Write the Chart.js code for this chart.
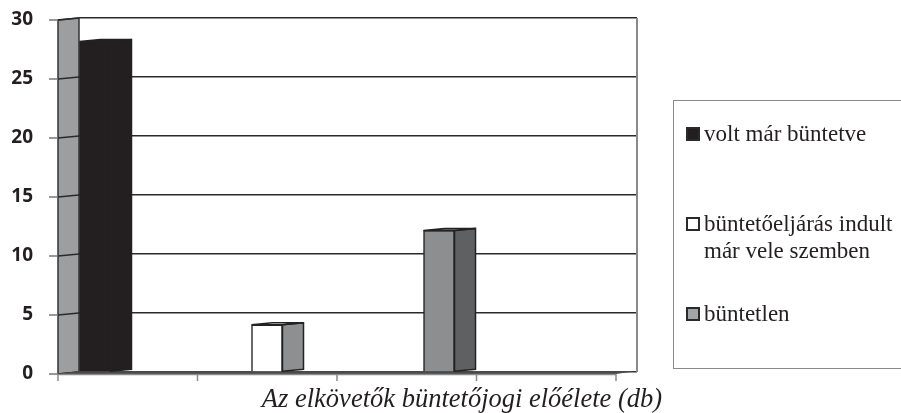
<!DOCTYPE html>
<html>
<head>
<meta charset="utf-8">
<script src="https://cdn.jsdelivr.net/npm/chart.js@4"></script>
<style>
  body { margin: 0; background: #fff; }
  #wrap { position: relative; width: 901px; height: 413px; }
  #legend {
    position: absolute; left: 673px; top: 100px; width: 260px; height: 269px;
    border: 1.5px solid #8a8a8a; box-sizing: border-box;
    font-family: "Liberation Serif", "DejaVu Serif", serif; font-size: 23px;
    line-height: 27px; color: #231f20;
  }
  #legend .item { position: absolute; left: 30px; width: 200px; }
  #legend .box {
    position: absolute; left: -18px; top: 7px; width: 14px; height: 14px;
    box-sizing: border-box; border: 2px solid #2a2a2a;
  }
</style>
</head>
<body>
<div id="wrap">
  <canvas id="chart" width="901" height="413"></canvas>
  <div id="legend"></div>
</div>
<script>
// series (one bar each)
const seriesNames = ['volt már büntetve', 'büntetőeljárás indult már vele szemben', 'büntetlen'];
const seriesValues = [28, 4, 12];
const seriesSlots = [1, 2, 3];
const yMin = 0, yMax = 30, yStep = 5;
const axisTitle = 'Az elkövetők büntetőjogi előélete (db)';

const frontColors = ['#231f20', '#ffffff', '#8d8e90'];
const sideColors = ['#231f20', '#8e8f91', '#5f6062'];
const legendColors = ['#231f20', '#ffffff', '#a3a4a6'];

const DX = 21, DY = 2;

const datasets = seriesNames.map((name, i) => ({
  label: name,
  data: [{ x: seriesSlots[i], y: seriesValues[i] }],
  backgroundColor: frontColors[i],
  borderColor: '#222',
  borderWidth: 1.5,
  sideColor: sideColors[i]
}));

const fake3d = {
  id: 'fake3d',
  beforeDatasetsDraw(chart) {
    const ctx = chart.ctx;
    const { left: L, right: R, top: T, bottom: B } = chart.chartArea;
    const y = chart.scales.y;
    ctx.save();
    // right edge of the back wall
    ctx.strokeStyle = '#8a8a8a';
    ctx.lineWidth = 2;
    ctx.beginPath(); ctx.moveTo(R, T); ctx.lineTo(R, B); ctx.stroke();
    // left side wall
    ctx.fillStyle = '#9d9ea0';
    ctx.strokeStyle = '#333';
    ctx.lineWidth = 1.5;
    ctx.beginPath();
    ctx.moveTo(L, T); ctx.lineTo(L - DX, T + DY); ctx.lineTo(L - DX, B + DY); ctx.lineTo(L, B);
    ctx.closePath(); ctx.fill(); ctx.stroke();
    for (let v = yMin; v <= yMax; v += yStep) {
      const py = y.getPixelForValue(v);
      ctx.strokeStyle = '#2a2a2a';
      ctx.beginPath(); ctx.moveTo(L, py); ctx.lineTo(L - DX, py + DY); ctx.stroke();
      ctx.strokeStyle = '#777';
      ctx.beginPath(); ctx.moveTo(L - DX - 9, py + DY); ctx.lineTo(L - DX, py + DY); ctx.stroke();
    }
    // floor
    ctx.fillStyle = '#4a4a4a';
    ctx.beginPath();
    ctx.moveTo(L, B - 1); ctx.lineTo(R, B - 1); ctx.lineTo(R - DX, B + DY); ctx.lineTo(L - DX, B + DY);
    ctx.closePath(); ctx.fill();
    // front axis with ticks
    ctx.strokeStyle = '#8a8a8a';
    ctx.lineWidth = 1.5;
    ctx.beginPath(); ctx.moveTo(L - DX, B + DY + 0.5); ctx.lineTo(R - DX, B + DY + 0.5); ctx.stroke();
    for (let i = 0; i <= 4; i++) {
      const px = L - DX + i * (R - L) / 4;
      ctx.beginPath(); ctx.moveTo(px, B + DY); ctx.lineTo(px, B + DY + 7); ctx.stroke();
    }
    ctx.restore();
  },
  afterDatasetsDraw(chart) {
    const ctx = chart.ctx;
    ctx.save();
    ctx.strokeStyle = '#222';
    ctx.lineWidth = 1.5;
    chart.data.datasets.forEach((ds, i) => {
      chart.getDatasetMeta(i).data.forEach(bar => {
        const r = bar.x + bar.width / 2, l = bar.x - bar.width / 2;
        ctx.fillStyle = ds.sideColor;
        ctx.beginPath();
        ctx.moveTo(r, bar.y); ctx.lineTo(r + DX, bar.y - DY); ctx.lineTo(r + DX, bar.base - DY); ctx.lineTo(r, bar.base);
        ctx.closePath(); ctx.fill(); ctx.stroke();
        ctx.fillStyle = ds.backgroundColor;
        ctx.beginPath();
        ctx.moveTo(l, bar.y); ctx.lineTo(l + DX, bar.y - DY); ctx.lineTo(r + DX, bar.y - DY); ctx.lineTo(r, bar.y);
        ctx.closePath(); ctx.fill(); ctx.stroke();
      });
    });
    ctx.restore();
  },
  afterDraw(chart) {
    const ctx = chart.ctx;
    ctx.save();
    ctx.font = 'italic 26.5px "Liberation Serif"';
    ctx.fillStyle = '#231f20';
    ctx.textAlign = 'center';
    ctx.textBaseline = 'alphabetic';
    ctx.fillText(axisTitle, 462, 407);
    ctx.restore();
  }
};

new Chart(document.getElementById('chart'), {
  type: 'bar',
  data: { datasets: datasets },
  plugins: [fake3d],
  options: {
    responsive: false,
    animation: false,
    grouped: false,
    barThickness: 31,
    layout: { padding: { left: 11, right: 264, top: 18, bottom: 41 } },
    plugins: { legend: { display: false }, tooltip: { enabled: false } },
    scales: {
      x: { type: 'linear', display: false, offset: false, min: 0.907, max: 4.151 },
      y: {
        min: yMin, max: yMax,
        ticks: {
          stepSize: yStep, padding: 46, labelOffset: 2, color: '#231f20',
          font: { family: 'Open Sans', weight: 'bold', size: 19 }
        },
        grid: { color: '#2a2a2a', lineWidth: 1.5, drawTicks: false },
        border: { display: false },
        afterFit(scale) {
          scale.width = 68;
          scale.paddingTop = 10;
          scale.paddingBottom = 10;
        }
      }
    }
  }
});

// legend from the series
const legend = document.getElementById('legend');
seriesNames.forEach((name, i) => {
  const item = document.createElement('div');
  item.className = 'item';
  item.style.top = (19 + i * 90) + 'px';
  const box = document.createElement('span');
  box.className = 'box';
  box.style.background = legendColors[i];
  item.appendChild(box);
  item.appendChild(document.createTextNode(name));
  legend.appendChild(item);
});
</script>
</body>
</html>
